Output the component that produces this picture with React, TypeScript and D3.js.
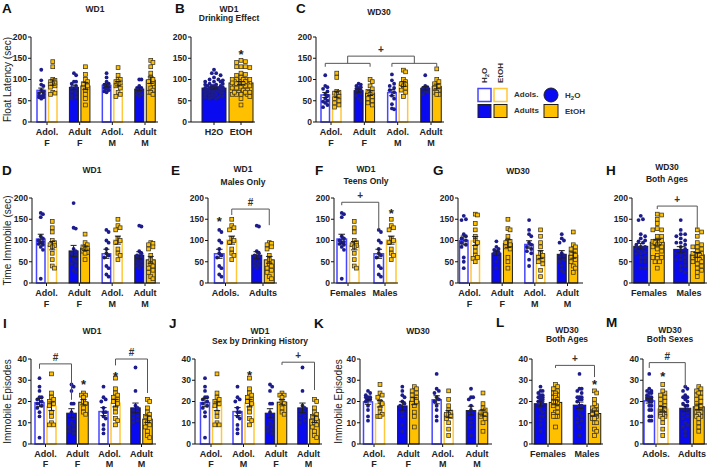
import React from "react";
import * as d3 from "d3";

// ================= DATA =================
// Float latency (sec), WD1
const flW1AdolF_H2O = [123, 98, 88, 85, 75, 72, 68, 65, 62, 58, 60, 58, 55];
const flW1AdolF_EtOH = [142, 130, 100, 98, 95, 92, 90, 88, 85, 82, 70, 68, 65];
const flW1AdultF_H2O = [115, 110, 95, 95, 90, 85, 80, 75, 72, 68, 62, 58, 55];
const flW1AdultF_EtOH = [130, 112, 100, 95, 90, 85, 75, 65, 55, 40];
const flW1AdolM_H2O = [115, 105, 95, 90, 88, 85, 82, 80, 78, 75, 72, 70];
const flW1AdolM_EtOH = [128, 110, 100, 100, 95, 95, 92, 90, 85, 80, 70, 65, 60];
const flW1AdultM_H2O = [100, 100, 85, 80, 80, 78, 75, 72, 70, 65, 65, 60];
const flW1AdultM_EtOH = [145, 140, 130, 115, 105, 100, 95, 90, 80, 75, 70, 70, 65];

// Float latency (sec), WD30
const flW30AdolF_H2O = [110, 85, 82, 78, 72, 65, 62, 55, 50, 48, 45, 40, 35];
const flW30AdolF_EtOH = [115, 105, 72, 70, 68, 65, 60, 55, 50, 45, 40, 35];
const flW30AdultF_H2O = [90, 88, 85, 82, 80, 78, 75, 72, 68, 62, 55, 50];
const flW30AdultF_EtOH = [100, 95, 85, 78, 72, 70, 65, 60, 55, 50, 45, 40];
const flW30AdolM_H2O = [112, 98, 90, 85, 80, 75, 70, 62, 55, 42, 32, 30];
const flW30AdolM_EtOH = [122, 118, 100, 95, 90, 88, 85, 80, 75, 70, 60];
const flW30AdultM_H2O = [110, 85, 82, 80, 78, 77, 75, 72, 70, 65];
const flW30AdultM_EtOH = [125, 100, 95, 90, 85, 80, 75, 70, 70, 65, 65];

// Time immobile (sec), WD1
const tiW1AdolF_H2O = [165, 162, 155, 110, 105, 100, 97, 95, 92, 90, 85, 78, 10];
const tiW1AdolF_EtOH = [145, 130, 120, 100, 95, 90, 88, 85, 70, 55, 40, 35];
const tiW1AdultF_H2O = [188, 130, 128, 80, 75, 70, 65, 55, 50, 45, 40, 30, 25];
const tiW1AdultF_EtOH = [115, 95, 90, 85, 82, 80, 75, 72, 70, 55];
const tiW1AdolM_H2O = [125, 120, 100, 95, 80, 70, 65, 60, 40, 35, 20, 15];
const tiW1AdolM_EtOH = [150, 135, 130, 125, 105, 100, 95, 80, 70, 65, 55];
const tiW1AdultM_H2O = [135, 133, 75, 70, 65, 62, 60, 55, 50, 48, 45, 42, 40, 35];
const tiW1AdultM_EtOH = [95, 93, 90, 85, 80, 65, 55, 45, 40, 35, 30, 25, 15, 10];

// Time immobile (sec), WD30
const tiW30AdolF_H2O = [158, 150, 148, 115, 110, 105, 100, 95, 90, 85, 60, 50, 35];
const tiW30AdolF_EtOH = [162, 160, 140, 125, 110, 100, 95, 85, 75, 65, 60, 58, 50];
const tiW30AdultF_H2O = [98, 85, 80, 78, 75, 72, 70, 68, 60, 50, 35];
const tiW30AdultF_EtOH = [150, 128, 125, 110, 100, 98, 95, 90, 85, 80, 60, 50, 35];
const tiW30AdolM_H2O = [148, 125, 115, 110, 95, 90, 85, 80, 75, 70, 55, 40];
const tiW30AdolM_EtOH = [125, 110, 95, 85, 70, 65, 60, 55, 50, 45, 30, 15];
const tiW30AdultM_H2O = [115, 105, 100, 95, 70, 65, 60, 55, 50, 40, 30, 25];
const tiW30AdultM_EtOH = [120, 90, 85, 80, 75, 70, 65, 60, 55, 50, 40, 35, 25];

// Immobile episodes, WD1
const ieW1AdolF_H2O = [31, 27, 25, 22, 22, 21, 20, 19, 18, 17, 15, 13, 3];
const ieW1AdolF_EtOH = [33, 24, 22, 21, 20, 19, 18, 15, 13, 10, 9, 9];
const ieW1AdultF_H2O = [28, 27, 25, 19, 19, 15, 13, 12, 10, 9, 8, 7, 6, 5];
const ieW1AdultF_EtOH = [24, 23, 23, 22, 20, 19, 17, 15, 14];
const ieW1AdolM_H2O = [27, 22, 21, 20, 17, 15, 15, 13, 12, 9, 7, 5];
const ieW1AdolM_EtOH = [31, 26, 24, 23, 22, 21, 20, 19, 17, 15, 12, 11, 9];
const ieW1AdultM_H2O = [36, 25, 18, 17, 16, 15, 14, 13, 12, 11, 10];
const ieW1AdultM_EtOH = [21, 20, 17, 15, 14, 13, 12, 10, 9, 8, 6, 4, 3];

// Immobile episodes, WD30
const ieW30AdolF_H2O = [25, 24, 23, 22, 22, 22, 21, 21, 20, 18, 16, 13, 11];
const ieW30AdolF_EtOH = [28, 24, 23, 22, 20, 19, 17, 15, 14, 13, 13];
const ieW30AdultF_H2O = [27, 25, 23, 22, 20, 19, 18, 15, 13, 9, 6];
const ieW30AdultF_EtOH = [27, 26, 25, 24, 23, 22, 21, 20, 18, 15, 13, 8];
const ieW30AdolM_H2O = [33, 26, 25, 24, 22, 21, 20, 18, 16, 13, 11];
const ieW30AdolM_EtOH = [25, 21, 18, 16, 15, 14, 14, 13, 12, 10, 7, 4];
const ieW30AdultM_H2O = [26, 22, 22, 21, 18, 16, 14, 12, 10, 8, 4];
const ieW30AdultM_EtOH = [24, 19, 17, 16, 15, 15, 14, 13, 12, 10, 6];

// Category / tick labels
const labels4 = [["Adol.", "F"], ["Adult", "F"], ["Adol.", "M"], ["Adult", "M"]];
const labelsJ = [["Adol.", "F"], ["Adol.", "M"], ["Adult", "F"], ["Adult", "M"]];
const labelsDrink = [["H2O"], ["EtOH"]];
const labelsAge = [["Adols."], ["Adults"]];
const labelsSex = [["Females"], ["Males"]];
const ticksSec = [0, 50, 100, 150, 200];
const ticksEp = [0, 10, 20, 30, 40];

// ================= STYLE =================
const FONT = "'Liberation Sans', Arial, Helvetica, sans-serif";
const C = {
  blueFill: "#0a0af0",
  blueLine: "#4646ff",
  blueDot: "#1c1c8c",
  yellow: "#ffc000",
  yellowLine: "#ffc83a",
  sqStroke: "#3a3326",
  dark: "#1e1e1e",
  bracket: "#555555",
};

type Bar = { vals: number[]; c: "b" | "y"; open: boolean };
type Group = { key: string; label: string[]; bars: Bar[] };
type Bracket = {
  a?: [number, number]; b?: [number, number];
  ma?: number; mb?: number;
  y: number; da?: number; db?: number; label?: string;
};
type Star = { g: number; b: number; v: number };
type Panel = {
  groups: Group[]; max: number; ticks: number[];
  x0: number; x1: number; c0: number; c1: number; yTop: number; yBot: number;
  bw: number; gap: number;
  title: string[]; tx: number; ty: number[];
  letter: string; lx: number; ly: number;
  ylabel?: string; ylx?: number; labOff: number[];
  brackets?: Bracket[]; stars?: Star[];
};

const pair = (key: string, label: string[], h: number[], e: number[], open: boolean): Group => ({
  key, label, bars: [{ vals: h, c: "b", open }, { vals: e, c: "y", open }],
});

const fourGroups = (labels: string[][], sets: number[][][], opens: boolean[]) =>
  labels.map((l, i) => pair("g" + i, l, sets[i][0], sets[i][1], opens[i]));

const cat = (...arrs: number[][]) => ([] as number[]).concat(...arrs);

const R1 = { yTop: 37, yBot: 122 };
const R2 = { yTop: 198, yBot: 283 };
const R3 = { yTop: 359, yBot: 444 };
const OFF12 = [13, 24];
const OFF3 = [13, 23];

const panels: Panel[] = [
  {
    groups: fourGroups(labels4, [
      [flW1AdolF_H2O, flW1AdolF_EtOH], [flW1AdultF_H2O, flW1AdultF_EtOH],
      [flW1AdolM_H2O, flW1AdolM_EtOH], [flW1AdultM_H2O, flW1AdultM_EtOH]], [true, false, true, false]),
    max: 200, ticks: ticksSec, x0: 31, x1: 158, c0: 47, c1: 145, ...R1, bw: 10, gap: 1.5,
    title: ["WD1"], tx: 95, ty: [12], letter: "A", lx: 2, ly: 13,
    ylabel: "Float Latency (sec)", ylx: 11, labOff: OFF12,
  },
  {
    groups: [
      { key: "h", label: labelsDrink[0], bars: [{ vals: cat(flW1AdolF_H2O, flW1AdultF_H2O, flW1AdolM_H2O, flW1AdultM_H2O), c: "b", open: false }] },
      { key: "e", label: labelsDrink[1], bars: [{ vals: cat(flW1AdolF_EtOH, flW1AdultF_EtOH, flW1AdolM_EtOH, flW1AdultM_EtOH), c: "y", open: false }] },
    ],
    max: 200, ticks: ticksSec, x0: 191, x1: 255, c0: 214, c1: 241, ...R1, bw: 25, gap: 0,
    title: ["WD1", "Drinking Effect"], tx: 229, ty: [12, 21], letter: "B", lx: 175, ly: 13, labOff: OFF12,
    stars: [{ g: 1, b: 0, v: 163 }],
  },
  {
    groups: fourGroups(labels4, [
      [flW30AdolF_H2O, flW30AdolF_EtOH], [flW30AdultF_H2O, flW30AdultF_EtOH],
      [flW30AdolM_H2O, flW30AdolM_EtOH], [flW30AdultM_H2O, flW30AdultM_EtOH]], [true, false, true, false]),
    max: 200, ticks: ticksSec, x0: 316, x1: 444, c0: 331, c1: 431, ...R1, bw: 10, gap: 1.5,
    title: ["WD30"], tx: 379, ty: [15], letter: "C", lx: 296, ly: 13, labOff: OFF12,
    brackets: [
      { a: [0, 0], b: [1, 1], y: 138, da: 130, db: 130 },
      { a: [2, 0], b: [3, 1], y: 138, da: 130, db: 130 },
      { ma: 0, mb: 1, y: 155, label: "+" },
    ],
  },
  {
    groups: fourGroups(labels4, [
      [tiW1AdolF_H2O, tiW1AdolF_EtOH], [tiW1AdultF_H2O, tiW1AdultF_EtOH],
      [tiW1AdolM_H2O, tiW1AdolM_EtOH], [tiW1AdultM_H2O, tiW1AdultM_EtOH]], [true, false, true, false]),
    max: 200, ticks: ticksSec, x0: 32, x1: 160, c0: 46.5, c1: 145, ...R2, bw: 10, gap: 1.5,
    title: ["WD1"], tx: 92, ty: [173], letter: "D", lx: 2, ly: 175,
    ylabel: "Time Immobile (sec)", ylx: 11, labOff: OFF12,
  },
  {
    groups: [
      pair("a", labelsAge[0], tiW1AdolM_H2O, tiW1AdolM_EtOH, true),
      pair("b", labelsAge[1], tiW1AdultM_H2O, tiW1AdultM_EtOH, false),
    ],
    max: 200, ticks: ticksSec, x0: 208, x1: 277, c0: 225.5, c1: 263, ...R2, bw: 11, gap: 1.5,
    title: ["WD1", "Males Only"], tx: 243, ty: [172, 185], letter: "E", lx: 171, ly: 175, labOff: OFF12,
    stars: [{ g: 0, b: 0, v: 148 }],
    brackets: [{ a: [0, 1], b: [1, 1], y: 174, da: 160, db: 136, label: "#" }],
  },
  {
    groups: [
      pair("f", labelsSex[0], tiW1AdolF_H2O, tiW1AdolF_EtOH, true),
      pair("m", labelsSex[1], tiW1AdolM_H2O, tiW1AdolM_EtOH, true),
    ],
    max: 200, ticks: ticksSec, x0: 334, x1: 398, c0: 348, c1: 385, ...R2, bw: 11, gap: 1.5,
    title: ["WD1", "Teens Only"], tx: 366, ty: [172, 184], letter: "F", lx: 315, ly: 175, labOff: OFF12,
    stars: [{ g: 1, b: 1, v: 168 }],
    brackets: [{ a: [0, 0], b: [1, 0], y: 190, da: 183, db: 125, label: "+" }],
  },
  {
    groups: fourGroups(labels4, [
      [tiW30AdolF_H2O, tiW30AdolF_EtOH], [tiW30AdultF_H2O, tiW30AdultF_EtOH],
      [tiW30AdolM_H2O, tiW30AdolM_EtOH], [tiW30AdultM_H2O, tiW30AdultM_EtOH]], [true, false, true, false]),
    max: 200, ticks: ticksSec, x0: 458, x1: 583, c0: 469.5, c1: 567.5, ...R2, bw: 10, gap: 1.5,
    title: ["WD30"], tx: 518, ty: [174], letter: "G", lx: 433, ly: 175, labOff: OFF12,
  },
  {
    groups: [
      pair("f", labelsSex[0], cat(tiW30AdolF_H2O, tiW30AdultF_H2O), cat(tiW30AdolF_EtOH, tiW30AdultF_EtOH), false),
      pair("m", labelsSex[1], cat(tiW30AdolM_H2O, tiW30AdultM_H2O), cat(tiW30AdolM_EtOH, tiW30AdultM_EtOH), false),
    ],
    max: 200, ticks: ticksSec, x0: 632, x1: 707, c0: 649, c1: 689, ...R2, bw: 15, gap: 1.5,
    title: ["WD30", "Both Ages"], tx: 667, ty: [170, 182], letter: "H", lx: 606, ly: 175, labOff: OFF12,
    brackets: [{ a: [0, 1], b: [1, 1], y: 181, da: 174, db: 127, label: "+" }],
  },
  {
    groups: fourGroups(labels4, [
      [ieW1AdolF_H2O, ieW1AdolF_EtOH], [ieW1AdultF_H2O, ieW1AdultF_EtOH],
      [ieW1AdolM_H2O, ieW1AdolM_EtOH], [ieW1AdultM_H2O, ieW1AdultM_EtOH]], [true, false, true, false]),
    max: 40, ticks: ticksEp, x0: 31, x1: 156, c0: 45.5, c1: 141.5, ...R3, bw: 10.5, gap: 1.5,
    title: ["WD1"], tx: 92, ty: [334], letter: "I", lx: 3, ly: 328,
    ylabel: "Immobile Episodes", ylx: 11, labOff: OFF3,
    stars: [{ g: 1, b: 1, v: 28.7 }, { g: 2, b: 1, v: 32.5 }],
    brackets: [
      { a: [0, 0], b: [1, 0], y: 37.7, da: 35.4, db: 20.8, label: "#" },
      { a: [2, 1], b: [3, 1], y: 40, da: 37, db: 24, label: "#" },
    ],
  },
  {
    groups: fourGroups(labelsJ, [
      [ieW1AdolF_H2O, ieW1AdolF_EtOH], [ieW1AdolM_H2O, ieW1AdolM_EtOH],
      [ieW1AdultF_H2O, ieW1AdultF_EtOH], [ieW1AdultM_H2O, ieW1AdultM_EtOH]], [true, true, false, false]),
    max: 40, ticks: ticksEp, x0: 195, x1: 322, c0: 211, c1: 308.5, ...R3, bw: 10.5, gap: 1.5,
    title: ["WD1", "Sex by Drinking History"], tx: 260, ty: [334, 344], letter: "J", lx: 169, ly: 328, labOff: OFF3,
    stars: [{ g: 1, b: 1, v: 33 }],
    brackets: [{ a: [2, 1], b: [3, 1], y: 38.5, da: 37.2, db: 25.4, label: "+" }],
  },
  {
    groups: fourGroups(labels4, [
      [ieW30AdolF_H2O, ieW30AdolF_EtOH], [ieW30AdultF_H2O, ieW30AdultF_EtOH],
      [ieW30AdolM_H2O, ieW30AdolM_EtOH], [ieW30AdultM_H2O, ieW30AdultM_EtOH]], [true, false, true, false]),
    max: 40, ticks: ticksEp, x0: 360, x1: 492, c0: 374, c1: 477, ...R3, bw: 10.5, gap: 1.5,
    title: ["WD30"], tx: 418, ty: [334], letter: "K", lx: 314, ly: 328,
    ylabel: "Immobile Episodes", ylx: 342, labOff: OFF3,
  },
  {
    groups: [
      pair("f", labelsSex[0], cat(ieW30AdolF_H2O, ieW30AdultF_H2O), cat(ieW30AdolF_EtOH, ieW30AdultF_EtOH), false),
      pair("m", labelsSex[1], cat(ieW30AdolM_H2O, ieW30AdultM_H2O), cat(ieW30AdolM_EtOH, ieW30AdultM_EtOH), false),
    ],
    max: 40, ticks: ticksEp, x0: 532, x1: 603, c0: 548, c1: 587, ...R3, bw: 13.5, gap: 1.5,
    title: ["WD30", "Both Ages"], tx: 567, ty: [333, 342], letter: "L", lx: 496, ly: 327, labOff: OFF3,
    stars: [{ g: 1, b: 1, v: 28.7 }],
    brackets: [{ a: [0, 1], b: [1, 1], y: 37, da: 35.8, db: 31.5, label: "+" }],
  },
  {
    groups: [
      pair("a", labelsAge[0], cat(ieW30AdolF_H2O, ieW30AdolM_H2O), cat(ieW30AdolF_EtOH, ieW30AdolM_EtOH), true),
      pair("b", labelsAge[1], cat(ieW30AdultF_H2O, ieW30AdultM_H2O), cat(ieW30AdultF_EtOH, ieW30AdultM_EtOH), false),
    ],
    max: 40, ticks: ticksEp, x0: 643, x1: 707, c0: 656, c1: 692, ...R3, bw: 12, gap: 1.5,
    title: ["WD30", "Both Sexes"], tx: 670, ty: [333, 342], letter: "M", lx: 606, ly: 327, labOff: OFF3,
    stars: [{ g: 0, b: 1, v: 32.5 }],
    brackets: [{ a: [0, 0], b: [1, 0], y: 38.3, da: 35.8, db: 27, label: "#" }],
  },
];

// simple deterministic beeswarm inside a bar
function swarm(vals: number[], yPix: (v: number) => number, cx: number, half: number, r: number) {
  const pts = vals.map((v) => ({ v, y: yPix(v), x: cx }));
  const order = d3.range(vals.length).sort((a, b) => vals[b] - vals[a]);
  const placed: { x: number; y: number }[] = [];
  const step = Math.max(r * 1.1, 1);
  const cands: number[] = [0];
  for (let k = 1; k * step <= half + 0.01; k++) cands.push(k * step, -k * step);
  for (const i of order) {
    const py = pts[i].y;
    let best = 0, bestD = -1;
    for (const dx of cands) {
      let minD = Infinity;
      for (const p of placed) {
        const d = Math.hypot(p.x - (cx + dx), p.y - py);
        if (d < minD) minD = d;
      }
      if (minD >= 2 * r * 0.9) { best = dx; break; }
      if (minD > bestD) { bestD = minD; best = dx; }
    }
    pts[i].x = cx + best;
    placed.push({ x: pts[i].x, y: py });
  }
  return pts;
}

function PanelView({ p }: { p: Panel }) {
  const y = d3.scaleLinear().domain([0, p.max]).range([p.yBot, p.yTop]);
  const x = d3.scalePoint<string>().domain(p.groups.map((g) => g.key)).range([p.c0, p.c1]);
  const barLeft = (gi: number, bi: number) => {
    const g = p.groups[gi];
    const k = g.bars.length;
    const tot = k * p.bw + (k - 1) * p.gap;
    return (x(g.key) as number) - tot / 2 + bi * (p.bw + p.gap);
  };
  const barMid = (gi: number, bi: number) => barLeft(gi, bi) + p.bw / 2;

  const bracketGeom: { xa: number; xb: number; yl: number }[] = [];
  const bracketEls: React.ReactNode[] = [];
  (p.brackets || []).forEach((br, i) => {
    let xa: number, xb: number, ya: number, yb: number;
    const yl = y(br.y);
    if (br.ma !== undefined && br.mb !== undefined) {
      const A = bracketGeom[br.ma], B = bracketGeom[br.mb];
      xa = (A.xa + A.xb) / 2; xb = (B.xa + B.xb) / 2; ya = A.yl; yb = B.yl;
    } else {
      xa = barMid(br.a![0], br.a![1]); xb = barMid(br.b![0], br.b![1]);
      ya = y(br.da ?? br.y); yb = y(br.db ?? br.y);
    }
    bracketGeom.push({ xa, xb, yl });
    bracketEls.push(
      <g key={"br" + i}>
        <path d={`M${xa},${ya}V${yl}H${xb}V${yb}`} fill="none" stroke={C.bracket} strokeWidth={1} />
        {br.label && (
          <text x={(xa + xb) / 2} y={yl - 3} textAnchor="middle" fontSize={10} fontWeight="bold" fill="#333">
            {br.label}
          </text>
        )}
      </g>
    );
  });

  const R = 1.9;
  const S = 3.8;

  return (
    <g fontFamily={FONT}>
      {/* panel letter */}
      <text x={p.lx} y={p.ly} fontSize={13.5} fontWeight="bold" fill="#111">{p.letter}</text>
      {/* title */}
      {p.title.map((t, i) => (
        <text key={i} x={p.tx} y={p.ty[i]} textAnchor="middle" fontSize={8.5} fontWeight="bold" fill="#222">{t}</text>
      ))}
      {/* y label */}
      {p.ylabel && (
        <text transform={`translate(${p.ylx},${(p.yTop + p.yBot) / 2}) rotate(-90)`} textAnchor="middle" fontSize={10} fill="#222">
          {p.ylabel}
        </text>
      )}
      {/* bars */}
      {p.groups.map((g, gi) =>
        g.bars.map((b, bi) => {
          const m = d3.mean(b.vals) as number;
          const x0 = barLeft(gi, bi);
          const top = y(m);
          if (b.open) {
            return (
              <rect key={`b${gi}-${bi}`} x={x0 + 0.75} y={top} width={p.bw - 1.5} height={p.yBot - top}
                fill="#fff" stroke={b.c === "b" ? C.blueLine : C.yellowLine} strokeWidth={1.5} />
            );
          }
          return (
            <rect key={`b${gi}-${bi}`} x={x0 + 0.5} y={top} width={p.bw - 1} height={p.yBot - top}
              fill={b.c === "b" ? C.blueFill : C.yellow} stroke={C.dark} strokeWidth={1} />
          );
        })
      )}
      {/* points */}
      {p.groups.map((g, gi) =>
        g.bars.map((b, bi) => {
          const half = Math.max(p.bw / 2 - S / 2 - 0.6, 0.5);
          const pts = swarm(b.vals, (v) => y(v), barMid(gi, bi), half, R + 0.1);
          return (
            <g key={`p${gi}-${bi}`}>
              {pts.map((pt, k) =>
                b.c === "b" ? (
                  <circle key={k} cx={pt.x} cy={pt.y} r={R} fill={C.blueDot} />
                ) : (
                  <rect key={k} x={pt.x - S / 2} y={pt.y - S / 2} width={S} height={S}
                    fill={C.yellow} stroke={C.sqStroke} strokeWidth={0.75} />
                )
              )}
            </g>
          );
        })
      )}
      {/* error bars (mean ± SEM) */}
      {p.groups.map((g, gi) =>
        g.bars.map((b, bi) => {
          const m = d3.mean(b.vals) as number;
          const sem = (d3.deviation(b.vals) as number) / Math.sqrt(b.vals.length);
          const cx = barMid(gi, bi);
          const cw = Math.min(p.bw * 0.3, 4);
          return (
            <g key={`e${gi}-${bi}`} stroke={C.dark} strokeWidth={1}>
              <line x1={cx} x2={cx} y1={y(m + sem)} y2={y(m - sem)} />
              <line x1={cx - cw} x2={cx + cw} y1={y(m + sem)} y2={y(m + sem)} />
              <line x1={cx - cw} x2={cx + cw} y1={y(m - sem)} y2={y(m - sem)} />
            </g>
          );
        })
      )}
      {/* stars */}
      {(p.stars || []).map((s, i) => (
        <text key={"s" + i} x={barMid(s.g, s.b)} y={y(s.v) + 6} textAnchor="middle" fontSize={13} fontWeight="bold" fill="#222">*</text>
      ))}
      {bracketEls}
      {/* axes */}
      <line x1={p.x0} x2={p.x0} y1={p.yTop} y2={p.yBot} stroke="#111" strokeWidth={1} />
      <line x1={p.x0} x2={p.x1} y1={p.yBot} y2={p.yBot} stroke="#111" strokeWidth={1} />
      {p.ticks.map((t) => (
        <g key={"t" + t}>
          <line x1={p.x0 - 3} x2={p.x0} y1={y(t)} y2={y(t)} stroke="#111" />
          <text x={p.x0 - 4} y={y(t)} dy="0.35em" textAnchor="end" fontSize={8.5} fontWeight="bold" fill="#222">{t}</text>
        </g>
      ))}
      {p.groups.map((g) => (
        <g key={"x" + g.key}>
          <line x1={x(g.key)} x2={x(g.key)} y1={p.yBot} y2={p.yBot + 3} stroke="#111" />
          {g.label.map((l, li) => (
            <text key={li} x={x(g.key)} y={p.yBot + p.labOff[li]} textAnchor="middle" fontSize={9} fontWeight="bold" fill="#222">{l}</text>
          ))}
        </g>
      ))}
    </g>
  );
}

function Legend() {
  return (
    <g fontFamily={FONT} fontWeight="bold" fontSize={8} fill="#333">
      <text transform="translate(487,83) rotate(-90)">
        H<tspan fontSize={6} dy={2}>2</tspan><tspan dy={-2}>O</tspan>
      </text>
      <text transform="translate(503,83) rotate(-90)">EtOH</text>
      <rect x={478} y={88.5} width={13} height={13} fill="#fff" stroke={C.blueLine} strokeWidth={1.5} />
      <rect x={494} y={88.5} width={13} height={13} fill="#fff" stroke={C.yellowLine} strokeWidth={1.5} />
      <rect x={478} y={104.5} width={13} height={13} fill={C.blueFill} stroke={C.dark} strokeWidth={1} />
      <rect x={494} y={104.5} width={13} height={13} fill={C.yellow} stroke={C.dark} strokeWidth={1} />
      <text x={514} y={97}>Adols.</text>
      <text x={514} y={113}>Adults</text>
      <circle cx={551} cy={95} r={7} fill={C.blueFill} stroke={C.dark} strokeWidth={1} />
      <rect x={544} y={104.5} width={14} height={13} fill={C.yellow} stroke={C.dark} strokeWidth={1} />
      <text x={565} y={98}>
        H<tspan fontSize={6} dy={2}>2</tspan><tspan dy={-2}>O</tspan>
      </text>
      <text x={565} y={114}>EtOH</text>
    </g>
  );
}

export default function App() {
  return (
    <svg width={708} height={469} viewBox="0 0 708 469"
      style={{ position: "absolute", left: 0, top: 0, background: "#fff" }}>
      <rect x={0} y={0} width={708} height={469} fill="#fff" />
      {panels.map((p, i) => <PanelView key={i} p={p} />)}
      <Legend />
    </svg>
  );
}
